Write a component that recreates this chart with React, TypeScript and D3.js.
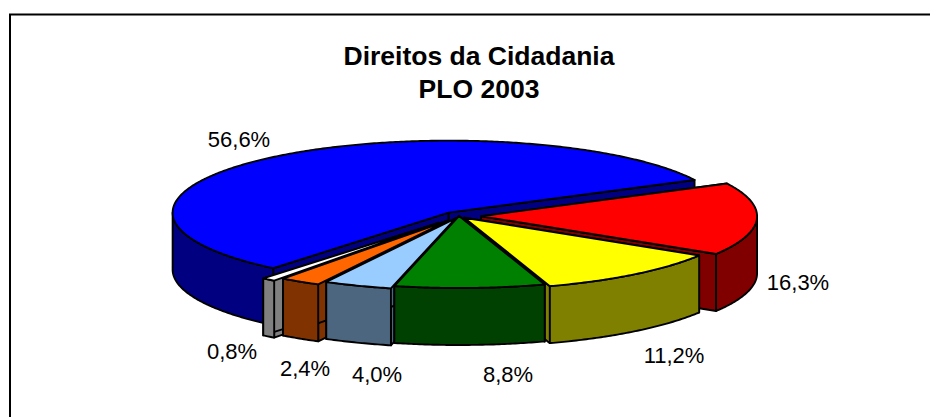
import React from "react";
import * as d3 from "d3";

const categories = ["A", "B", "C", "D", "E", "F", "G"];
const shares = [56.6, 16.3, 11.2, 8.8, 4.0, 2.4, 0.8];
const labels = ["56,6%", "16,3%", "11,2%", "8,8%", "4,0%", "2,4%", "0,8%"];
const topColors = ["#0000ff", "#ff0000", "#ffff00", "#008000", "#99ccff", "#ff6600", "#ffffff"];
const wallColors = ["#000080", "#800000", "#808000", "#004000", "#4d6680", "#803300", "#808080"];
const explode = [0.06, 0.08, 0.03, 0.0, 0.035, 0.078, 0.12];
const labelPos: [number, number][] = [
  [239, 147], [798, 290], [674, 363], [508, 382], [377, 382], [305, 376], [232, 359],
];
const drawOrder = [0, 1, 6, 5, 4, 2, 3];

const W = 930, H = 417;
const cx = 459, cy = 216, rx = 276, ry = 72, depth = 57;

const pie = d3.pie<number>().sort(null).value((d) => d)
  .startAngle((-27 * Math.PI) / 180)
  .endAngle((333 * Math.PI) / 180);
// start at the red slice: the blue one closes the circle
const arcs = pie(shares.slice(1).concat(shares[0]));
const arcOf = (i: number) => arcs[(i - 1 + shares.length) % shares.length];

const xs = d3.scaleLinear().domain([-1, 1]).range([-rx, rx]);
const ys = d3.scaleLinear().domain([-1, 1]).range([-ry, ry]);

function Slice({ i }: { i: number }) {
  const a = arcOf(i);
  const mid = (a.startAngle + a.endAngle) / 2;
  const ox = cx + xs(Math.cos(mid) * explode[i]);
  const oy = cy + ys(Math.sin(mid) * explode[i]);
  const pt = (t: number): [number, number] => [ox + xs(Math.cos(t)), oy + ys(Math.sin(t))];
  const line = d3.line();
  const ts = d3.range(a.startAngle, a.endAngle, 0.01).concat(a.endAngle);
  const rim = ts.map(pt);
  const top = line([[ox, oy], ...rim])! + "Z";
  const face = (t: number) => {
    const p = pt(t);
    return line([[ox, oy], p, [p[0], p[1] + depth], [ox, oy + depth]])! + "Z";
  };
  const wallTs = ts.filter((t) => {
    const n = ((t % (2 * Math.PI)) + 2 * Math.PI) % (2 * Math.PI);
    return n <= Math.PI;
  });
  const wall = wallTs.map(pt);
  const wallPath = wall.length > 1
    ? line([...wall, ...wall.slice().reverse().map((p) => [p[0], p[1] + depth] as [number, number])])! + "Z"
    : null;
  const s = { stroke: "#000", strokeWidth: 1.9, strokeLinejoin: "round" as const };
  return (
    <g data-name={categories[i]}>
      <path d={face(a.startAngle)} fill={wallColors[i]} {...s} />
      <path d={face(a.endAngle)} fill={wallColors[i]} {...s} />
      {wallPath && <path d={wallPath} fill={wallColors[i]} {...s} />}
      <path d={top} fill={topColors[i]} {...s} />
    </g>
  );
}

export default function App() {
  return (
    <svg width={W} height={H} style={{ position: "absolute", left: 0, top: 0 }} fontFamily="'Liberation Sans', Arial, sans-serif">
      <rect width={W} height={H} fill="#fff" />
      <path d={`M10 ${H}V14.5H${W}`} fill="none" stroke="#000" strokeWidth={2} />
      <text x={479} y={65} textAnchor="middle" fontSize={26.5} fontWeight="bold">Direitos da Cidadania</text>
      <text x={479} y={98} textAnchor="middle" fontSize={26.5} fontWeight="bold">PLO 2003</text>
      {drawOrder.map((i) => <Slice key={i} i={i} />)}
      {labels.map((l, i) => (
        <text key={l} x={labelPos[i][0]} y={labelPos[i][1]} textAnchor="middle" fontSize={22} fill="#000">{l}</text>
      ))}
    </svg>
  );
}
